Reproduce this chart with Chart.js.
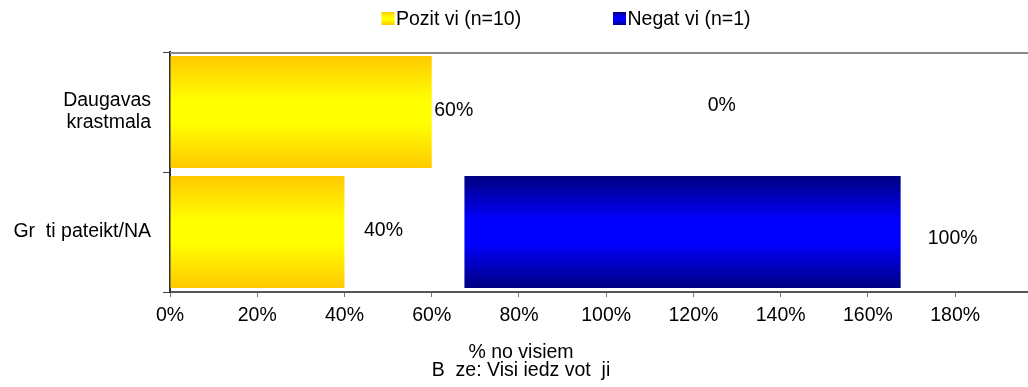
<!DOCTYPE html>
<html>
<head>
<meta charset="utf-8">
<script src="https://cdn.jsdelivr.net/npm/chart.js@4.4.1/dist/chart.umd.min.js"></script>
<style>
  html, body { margin: 0; padding: 0; background: #fff; overflow: hidden; }
  #wrap { width: 1028px; height: 387px; position: relative; }
</style>
</head>
<body>
<div id="wrap"><canvas id="c" width="1028" height="387"></canvas></div>
<script>
// ---- data ----
const categories = [["Daugavas", "krastmala"], "Gr  ti pateikt/NA"];
const seriesNames = ["Pozit vi (n=10)", "Negat vi (n=1)"];
const positive = [60, 40];          // Pozitīvi, %
const negativeOffset = [0, 27.5];   // hidden spacer series before the Negatīvi bar
const negative = [0, 100];          // Negatīvi, %
const axisTitleLines = ["% no visiem", "B  ze: Visi iedz vot  ji"];
const xTickValues = [0, 20, 40, 60, 80, 100, 120, 140, 160, 180];
const xMax = 196.7;

// ---- styling ----
const FONT = "'Liberation Sans', Arial, Helvetica, sans-serif";
const FSIZE = 19.5;
Chart.defaults.font.family = FONT;
Chart.defaults.font.size = FSIZE;
Chart.defaults.color = '#000';

const YELLOW_STOPS = [[0, '#FFC800'], [0.4, '#FFFF00'], [0.6, '#FFFF00'], [1, '#FFC800']];
const BLUE_STOPS = [[0, '#000080'], [0.4, '#0000FF'], [0.6, '#0000FF'], [1, '#000080']];
const BAR_PCT = 0.935;

function makeGrad(c2d, top, bottom, stops) {
  const g = c2d.createLinearGradient(0, top, 0, bottom);
  stops.forEach(s => g.addColorStop(s[0], s[1]));
  return g;
}

function barGradient(stops) {
  return function (ctx) {
    const chart = ctx.chart;
    const ys = chart.scales && chart.scales.y;
    if (ctx.type !== 'data' || !ys || !isFinite(ys.height) || ys.height <= 0) return stops[1][1];
    const c = ys.getPixelForValue(ctx.dataIndex);
    const half = (ys.height / categories.length) * BAR_PCT / 2;
    return makeGrad(chart.ctx, c - half, c + half, stops);
  };
}

// label nudges in pixels relative to the bar end [dx, dy], per dataset
const labelNudge = {
  0: [[22, -1], [39, -1]],
  2: [[290, -6], [52, 7]]
};

const valueLabels = {
  id: 'valueLabels',
  afterDatasetsDraw(chart) {
    const c = chart.ctx;
    c.save();
    c.font = FSIZE + 'px ' + FONT;
    c.fillStyle = '#000';
    c.textAlign = 'center';
    c.textBaseline = 'middle';
    Object.keys(labelNudge).forEach(di => {
      const meta = chart.getDatasetMeta(+di);
      const ds = chart.data.datasets[+di];
      meta.data.forEach((el, i) => {
        const n = labelNudge[di][i];
        c.fillText(ds.data[i] + '%', el.x + n[0], el.y + n[1]);
      });
    });
    c.restore();
  }
};

const customLegend = {
  id: 'customLegend',
  afterDraw(chart) {
    const c = chart.ctx;
    const items = [
      { x: 381.5, stops: YELLOW_STOPS, text: seriesNames[0] },
      { x: 613, stops: BLUE_STOPS, text: seriesNames[1] }
    ];
    c.save();
    c.font = FSIZE + 'px ' + FONT;
    c.textBaseline = 'middle';
    c.textAlign = 'left';
    items.forEach(it => {
      c.fillStyle = makeGrad(c, 12, 25, it.stops);
      c.fillRect(it.x, 12, 13, 13);
      c.fillStyle = '#000';
      c.fillText(it.text, it.x + 14.5, 20);
    });
    c.restore();
  }
};

const bottomTitle = {
  id: 'bottomTitle',
  afterDraw(chart) {
    const c = chart.ctx;
    c.save();
    c.font = FSIZE + 'px ' + FONT;
    c.fillStyle = '#000';
    c.textAlign = 'center';
    c.textBaseline = 'middle';
    c.fillText(axisTitleLines[0], 521, 353);
    c.fillText(axisTitleLines[1], 521, 371);
    c.restore();
  }
};

const plotTopBorder = {
  id: 'plotTopBorder',
  afterDatasetsDraw(chart) {
    const a = chart.chartArea, c = chart.ctx;
    c.save();
    c.strokeStyle = '#8a8a8a';
    c.lineWidth = 2;
    c.beginPath();
    c.moveTo(a.left, a.top + 1);
    c.lineTo(a.right, a.top + 1);
    c.stroke();
    c.restore();
  }
};

new Chart(document.getElementById('c'), {
  type: 'bar',
  data: {
    labels: categories,
    datasets: [
      { label: seriesNames[0], data: positive, backgroundColor: barGradient(YELLOW_STOPS) },
      { label: 'spacer', data: negativeOffset, backgroundColor: 'rgba(0,0,0,0)' },
      { label: seriesNames[1], data: negative, backgroundColor: barGradient(BLUE_STOPS) }
    ]
  },
  options: {
    indexAxis: 'y',
    responsive: false,
    animation: false,
    events: [],
    categoryPercentage: 1,
    barPercentage: BAR_PCT,
    layout: { padding: { top: 52, bottom: 60, left: 0, right: 0 } },
    plugins: {
      legend: { display: false },
      tooltip: { enabled: false },
      title: { display: false }
    },
    scales: {
      x: {
        stacked: true,
        min: 0,
        max: xMax,
        afterBuildTicks(axis) {
          axis.ticks = xTickValues.map(v => ({ value: v }));
        },
        afterFit(axis) { axis.height = 35; },
        ticks: {
          includeBounds: false,
          padding: 7,
          maxRotation: 0,
          autoSkip: false,
          color: '#000',
          font: { size: FSIZE, lineHeight: 1.2 },
          callback: v => v + '%'
        },
        grid: { drawOnChartArea: false, drawTicks: true, tickLength: 5, color: '#777', lineWidth: 1 },
        border: { display: true, color: '#555', width: 2 }
      },
      y: {
        stacked: true,
        afterFit(axis) { axis.width = 170; },
        ticks: {
          padding: 12,
          color: '#000',
          font: { size: FSIZE, lineHeight: 1.12 }
        },
        grid: { offset: true, drawOnChartArea: false, drawTicks: true, tickLength: 7, color: '#444', lineWidth: 1 },
        border: { display: true, color: '#333', width: 2 }
      }
    }
  },
  plugins: [valueLabels, customLegend, bottomTitle, plotTopBorder]
});
</script>
</body>
</html>
